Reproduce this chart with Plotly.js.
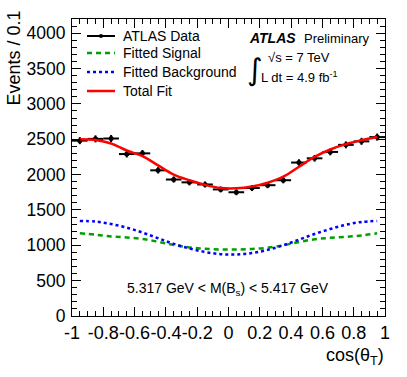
<!DOCTYPE html>
<html><head><meta charset="utf-8">
<script src="https://cdn.plot.ly/plotly-3.0.1.min.js"></script>
<style>html,body{margin:0;padding:0;background:#fff}#chart{width:407px;height:377px}</style>
</head><body><div id="chart"></div>
<script>
// ---- data ----
const binCenters = [-0.95,-0.85,-0.75,-0.65,-0.55,-0.45,-0.35,-0.25,-0.15,-0.05,0.05,0.15,0.25,0.35,0.45,0.55,0.65,0.75,0.85,0.95];
const binHalfWidths = [0.05,0.05,0.05,0.05,0.05,0.05,0.05,0.05,0.05,0.05,0.05,0.05,0.05,0.05,0.05,0.05,0.05,0.05,0.05,0.05];
const dataCounts = [2480,2505,2510,2290,2300,2060,1930,1890,1860,1790,1750,1810,1850,1920,2170,2230,2320,2420,2470,2530];
const dataErrors = [50,50,50,48,48,45,44,43,43,42,42,43,43,44,47,47,48,49,50,50];
const totalFit = [2500,2490,2440,2340,2260,2130,2000,1920,1855,1810,1805,1830,1885,1970,2110,2250,2355,2430,2485,2530];
const signalFit = [1170,1150,1125,1110,1090,1050,1005,970,950,940,940,948,965,1000,1045,1085,1105,1120,1140,1170];
const backgroundFit = [1345,1335,1300,1250,1180,1100,1020,955,905,875,870,890,935,1000,1080,1160,1230,1290,1330,1345];
const xTickVals = [-1,-0.8,-0.6,-0.4,-0.2,0,0.2,0.4,0.6,0.8,1];
const xTickLabels = ["-1","-0.8","-0.6","-0.4","-0.2","0","0.2","0.4","0.6","0.8","1"];
const legendLabels = ["ATLAS Data","Fitted Signal","Fitted Background","Total Fit"];

// ---- layout helpers (pixel -> paper) ----
const L = 72, R = 385, T = 19, B = 316;
const px = x => (x - L) / (R - L);
const py = y => (B - y) / (B - T);
const FONT = '"Liberation Sans", Arial, Helvetica, sans-serif';

const traces = [
  {x: binCenters, y: signalFit, mode: 'lines', line: {color: '#00a000', width: 2.5, dash: '5px,4px', shape: 'spline'}, name: legendLabels[1], showlegend: false},
  {x: binCenters, y: backgroundFit, mode: 'lines', line: {color: '#0000ff', width: 2.5, dash: 'dot', shape: 'spline'}, name: legendLabels[2], showlegend: false},
  {x: binCenters, y: dataCounts, mode: 'markers', marker: {color: 'black', size: 5},
   error_x: {type: 'data', array: binHalfWidths, width: 0, thickness: 2, color: 'black'},
   error_y: {type: 'data', array: dataErrors, width: 0, thickness: 2, color: 'black'},
   name: legendLabels[0], showlegend: false},
  {x: binCenters, y: totalFit, mode: 'lines', line: {color: '#ff0000', width: 2.5, shape: 'spline'}, name: legendLabels[3], showlegend: false}
];

const legY = [36, 53, 72, 91];
const legStyles = [
  {color: 'black', width: 2, dash: 'solid'},
  {color: '#00a000', width: 2.5, dash: '5px,4px'},
  {color: '#0000ff', width: 2.5, dash: 'dot'},
  {color: '#ff0000', width: 2.5, dash: 'solid'}
];
const shapes = [];
const annotations = [];
legendLabels.forEach((lab, i) => {
  shapes.push({type: 'line', xref: 'paper', yref: 'paper', x0: px(87), x1: px(115), y0: py(legY[i]), y1: py(legY[i]), line: legStyles[i]});
  annotations.push({xref: 'paper', yref: 'paper', x: px(121), y: py(legY[i]), xanchor: 'left', yanchor: 'middle', showarrow: false, text: lab, font: {family: FONT, size: 14, color: 'black'}});
});
shapes.push({type: 'circle', xref: 'paper', yref: 'paper', x0: px(99), x1: px(103), y0: py(34), y1: py(38), fillcolor: 'black', line: {width: 0}});

annotations.push(
  {xref: 'paper', yref: 'paper', x: px(247), y: py(38), xanchor: 'left', yanchor: 'middle', showarrow: false, text: '<b><i>ATLAS</i></b>', font: {family: FONT, size: 14, color: 'black'}},
  {xref: 'paper', yref: 'paper', x: px(302), y: py(38), xanchor: 'left', yanchor: 'middle', showarrow: false, text: 'Preliminary', font: {family: FONT, size: 13, color: 'black'}},
  {xref: 'paper', yref: 'paper', x: px(245), y: py(69), xanchor: 'left', yanchor: 'middle', showarrow: false, text: '∫', font: {family: '"DejaVu Sans", sans-serif', size: 30, color: 'black'}},
  {xref: 'paper', yref: 'paper', x: px(266), y: py(58), xanchor: 'left', yanchor: 'middle', showarrow: false, text: '√s = 7 TeV', font: {family: FONT, size: 13, color: 'black'}},
  {xref: 'paper', yref: 'paper', x: px(259), y: py(77), xanchor: 'left', yanchor: 'middle', showarrow: false, text: 'L dt = 4.9 fb<sup>-1</sup>', font: {family: FONT, size: 13, color: 'black'}},
  {xref: 'paper', yref: 'paper', x: px(228), y: py(289), xanchor: 'center', yanchor: 'middle', showarrow: false, text: '5.317 GeV &lt; M(B<sub>s</sub>) &lt; 5.417 GeV', font: {family: FONT, size: 14, color: 'black'}},
  {xref: 'paper', yref: 'paper', x: px(14), y: py(9), xanchor: 'center', yanchor: 'top', textangle: -90, showarrow: false, text: 'Events / 0.1', font: {family: FONT, size: 18, color: 'black'}},
  {xref: 'paper', yref: 'paper', x: px(386), y: py(356), xanchor: 'right', yanchor: 'middle', showarrow: false, text: 'cos(θ<sub>T</sub>)', font: {family: FONT, size: 18, color: 'black'}}
);

const layout = {
  width: 407, height: 377,
  margin: {l: L, r: 407 - R, t: T, b: 377 - B, pad: 0},
  paper_bgcolor: 'white', plot_bgcolor: 'white',
  showlegend: false,
  font: {family: FONT, size: 17, color: 'black'},
  xaxis: {
    range: [-1, 1], tickvals: xTickVals, ticktext: xTickLabels, tickangle: 0,
    ticks: 'inside', ticklen: 9, tickcolor: 'black', tickwidth: 1,
    minor: {dtick: 0.05, tick0: 0, ticks: 'inside', ticklen: 5, tickcolor: 'black', showgrid: false},
    showline: true, linecolor: 'black', linewidth: 1, mirror: 'allticks',
    showgrid: false, zeroline: false, automargin: false,
    tickfont: {family: FONT, size: 18, color: 'black'}, ticklabelstandoff: 0
  },
  yaxis: {
    range: [0, 4200], dtick: 500, tick0: 0,
    ticks: 'inside', ticklen: 9, tickcolor: 'black', tickwidth: 1,
    minor: {dtick: 100, ticks: 'inside', ticklen: 5, tickcolor: 'black', showgrid: false},
    showline: true, linecolor: 'black', linewidth: 1, mirror: 'allticks',
    showgrid: false, zeroline: false, automargin: false,
    tickfont: {family: FONT, size: 17.5, color: 'black'}, ticklabelstandoff: 2
  },
  shapes: shapes,
  annotations: annotations
};

Plotly.newPlot('chart', traces, layout, {displayModeBar: false, staticPlot: true});
</script>
</body></html>
